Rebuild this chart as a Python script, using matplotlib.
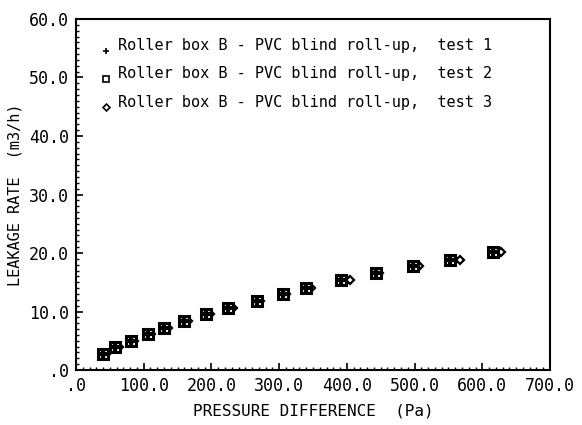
import matplotlib.pyplot as plt
from matplotlib.ticker import MultipleLocator, FixedLocator

# pressure difference (Pa) and leakage rate (m3/h)
p_test1 = [40, 58, 81, 106, 130, 160, 192, 225, 267, 305, 340, 391, 443, 498, 552, 616]
q_test1 = [2.8, 3.9, 5.0, 6.1, 7.2, 8.4, 9.5, 10.6, 11.8, 13.0, 14.1, 15.3, 16.5, 17.7, 18.8, 20.1]

p_test2 = [40, 58, 81, 106, 130, 160, 192, 225, 267, 305, 340, 391, 443, 498, 552, 616]
q_test2 = [2.8, 3.9, 5.0, 6.1, 7.2, 8.4, 9.5, 10.6, 11.8, 13.0, 14.1, 15.3, 16.5, 17.7, 18.8, 20.1]

p_test3 = [45, 63, 86, 111, 136, 166, 198, 232, 272, 310, 347, 404, 448, 506, 567, 627]
q_test3 = [2.8, 3.9, 5.0, 6.1, 7.2, 8.4, 9.5, 10.6, 11.8, 13.0, 14.1, 15.3, 16.5, 17.7, 18.8, 20.1]

labels = ['Roller box B - PVC blind roll-up,  test 1',
          'Roller box B - PVC blind roll-up,  test 2',
          'Roller box B - PVC blind roll-up,  test 3']

x_ticks = [0, 100, 200, 300, 400, 500, 600, 700]
x_tick_labels = ['.0', '100.0', '200.0', '300.0', '400.0', '500.0', '600.0', '700.0']
y_ticks = [0, 10, 20, 30, 40, 50, 60]
y_tick_labels = ['.0', '10.0', '20.0', '30.0', '40.0', '50.0', '60.0']

plt.rcParams['font.family'] = 'DejaVu Sans Mono'

fig = plt.figure(figsize=(5.82, 4.25), dpi=100)
ax = fig.add_axes([0.1306, 0.1294, 0.8144, 0.8259])

ax.plot(p_test3, q_test3, linestyle='none', marker='D', markersize=4.5,
        markerfacecolor='white', markeredgecolor='black', markeredgewidth=1.6)
ax.plot(p_test2, q_test2, linestyle='none', marker='s', markersize=6.5,
        markerfacecolor='white', markeredgecolor='black', markeredgewidth=2.2)
ax.plot(p_test1, q_test1, linestyle='none', marker='+', markersize=7,
        markeredgecolor='black', markeredgewidth=3)

# legend text written directly in the plot
leg_y = [55.4, 50.6, 45.8]
leg_markers = ['+', 's', 'D']
leg_sizes = [5, 4, 3.5]
for y, lab, m, s in zip(leg_y, labels, leg_markers, leg_sizes):
    ax.plot([44], [y - 0.8], linestyle='none', marker=m, markersize=s,
            markerfacecolor='white', markeredgecolor='black', markeredgewidth=1.2)
    ax.text(62, y, lab, fontsize=11, color='black', va='center', ha='left')

ax.set_xlim(0, 700)
ax.set_ylim(0, 60)
ax.xaxis.set_major_locator(FixedLocator(x_ticks))
ax.set_xticklabels(x_tick_labels)
ax.yaxis.set_major_locator(FixedLocator(y_ticks))
ax.set_yticklabels(y_tick_labels)
ax.xaxis.set_minor_locator(MultipleLocator(10))
ax.yaxis.set_minor_locator(MultipleLocator(1))
ax.tick_params(which='major', direction='in', length=5, width=1.2, labelsize=12, pad=5)
ax.tick_params(which='minor', direction='in', length=2.5, width=1.0)
ax.tick_params(top=False, right=False)

for sp in ax.spines.values():
    sp.set_linewidth(1.5)

ax.set_xlabel('PRESSURE DIFFERENCE  (Pa)', fontsize=11.5, labelpad=6)
ax.set_ylabel('LEAKAGE RATE  (m3/h)', fontsize=11, labelpad=5)

fig.savefig('out.png', dpi=100)
